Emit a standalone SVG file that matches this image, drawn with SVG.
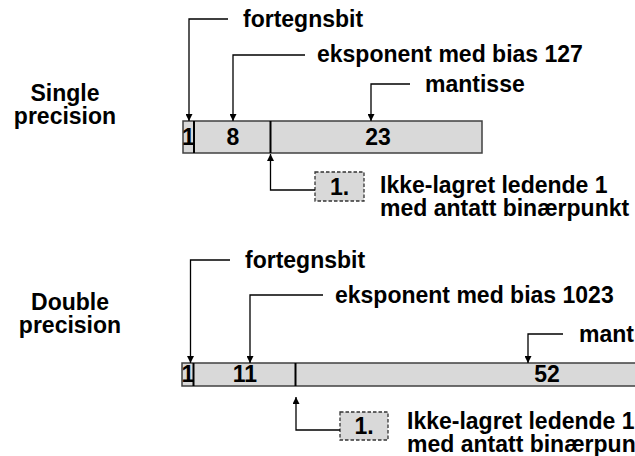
<svg xmlns="http://www.w3.org/2000/svg" width="635" height="456" viewBox="0 0 635 456">
<defs>
<style>
text{font-family:"Liberation Sans",Arial,sans-serif;font-weight:bold;font-size:23px;fill:#000}
.mid{text-anchor:middle}
.bar{fill:#d9d9d9;stroke:#404040;stroke-width:1.5}
.div{stroke:#000;stroke-width:2}
.con{fill:none;stroke:#000;stroke-width:1.3}
.dash{fill:#d9d9d9;stroke:#333;stroke-width:1.3;stroke-dasharray:3.5 2}
</style>
<marker id="ah" viewBox="0 0 10 10" refX="10" refY="5" markerWidth="7" markerHeight="7" markerUnits="userSpaceOnUse" orient="auto">
<path d="M0,0 L10,5 L0,10 z" fill="#000"/>
</marker>
</defs>
<rect width="635" height="456" fill="#fff"/>

<g id="single-label">
<text class="mid" x="65" y="101">Single</text>
<text class="mid" x="65" y="124">precision</text>
</g>
<g id="single-bar">
<rect class="bar" x="183" y="121" width="299" height="32"/>
<line class="div" x1="194" y1="121" x2="194" y2="153"/>
<line class="div" x1="270.5" y1="121" x2="270.5" y2="153"/>
<text class="mid" x="188.5" y="145">1</text>
<text class="mid" x="233" y="145">8</text>
<text class="mid" x="378" y="145">23</text>
</g>
<g id="single-sign-label"><text x="243" y="27">fortegnsbit</text></g>
<g id="single-exp-label"><text x="317" y="62">eksponent med bias 127</text></g>
<g id="single-mant-label"><text x="425" y="92">mantisse</text></g>
<g id="single-hidden">
<rect class="dash" x="315" y="172" width="49" height="29"/>
<text class="mid" x="339.5" y="195">1.</text>
</g>
<g id="single-hidden-label">
<text x="380" y="193">Ikke-lagret ledende 1</text>
<text x="380" y="216">med antatt binærpunkt</text>
</g>

<g id="double-label">
<text class="mid" x="70" y="310">Double</text>
<text class="mid" x="70" y="333">precision</text>
</g>
<g id="double-bar">
<rect class="bar" x="182" y="363" width="470" height="23"/>
<line class="div" x1="193.5" y1="363" x2="193.5" y2="386"/>
<line class="div" x1="295.5" y1="363" x2="295.5" y2="386"/>
<text class="mid" x="188" y="382">1</text>
<text class="mid" x="245" y="382">11</text>
<text class="mid" x="547" y="382">52</text>
</g>
<g id="double-sign-label"><text x="245" y="268">fortegnsbit</text></g>
<g id="double-exp-label"><text x="335" y="303">eksponent med bias 1023</text></g>
<g id="double-mant-label"><text x="579" y="342">mantisse</text></g>
<g id="double-hidden">
<rect class="dash" x="340" y="412" width="48" height="28"/>
<text class="mid" x="364" y="434">1.</text>
</g>
<g id="double-hidden-label">
<text x="407" y="429">Ikke-lagret ledende 1</text>
<text x="407" y="452">med antatt binærpunkt</text>
</g>

<g id="connectors">
<path class="con" d="M228,19 H189 V121" marker-end="url(#ah)"/>
<path class="con" d="M305,55 H233 V121" marker-end="url(#ah)"/>
<path class="con" d="M410,84 H371 V121" marker-end="url(#ah)"/>
<path class="con" d="M315,190 H270.5 V154" marker-end="url(#ah)"/>
<path class="con" d="M230,260 H190.5 V363" marker-end="url(#ah)"/>
<path class="con" d="M323,295 H250 V363" marker-end="url(#ah)"/>
<path class="con" d="M563,334 H528 V363" marker-end="url(#ah)"/>
<path class="con" d="M340,430 H296 V397" marker-end="url(#ah)"/>
</g>
</svg>
